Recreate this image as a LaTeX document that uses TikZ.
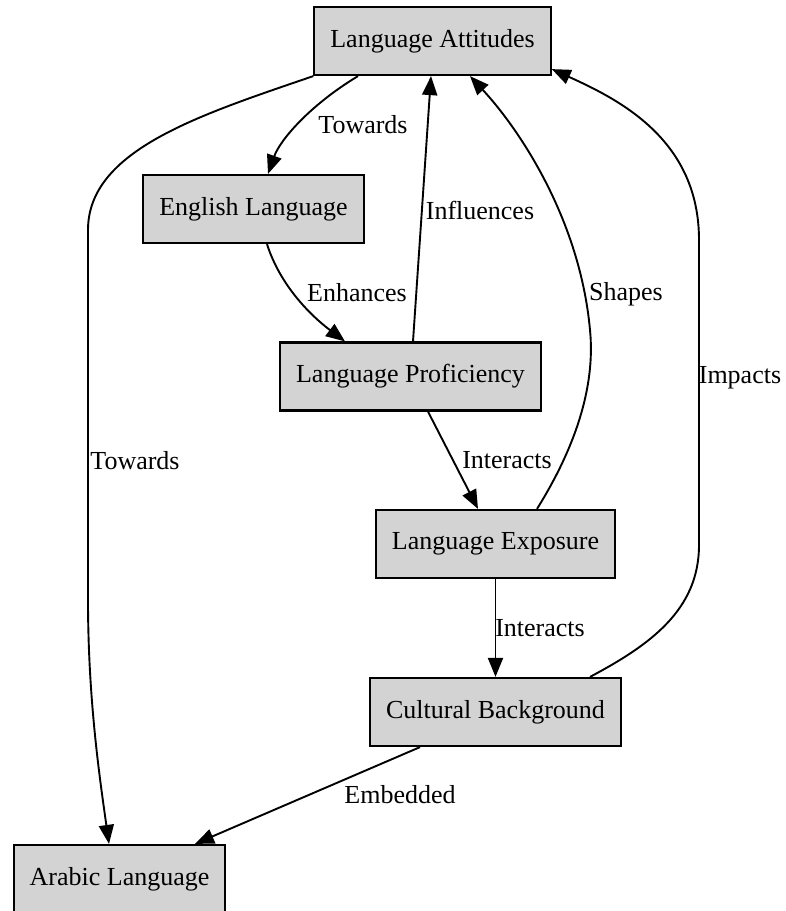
\documentclass[tikz,border=0pt]{standalone}
\usepackage{fontspec}
\setmainfont{Liberation Serif}
\usetikzlibrary{arrows.meta}
\definecolor{boxgray}{HTML}{D3D3D3}
\begin{document}
\begin{tikzpicture}[x=1pt, y=-1pt, font=\fontsize{26}{30}\selectfont,
      >={Triangle[length=19pt, width=15pt]},
      box/.style={draw, line width=2.2pt, fill=boxgray, inner xsep=16pt, minimum height=68pt},
      edge/.style={->, line width=1.9pt},
      lbl/.style={inner sep=1pt}]
    \useasboundingbox (0,0) rectangle (786,911);
    \node[box] (att) at (432.5,41) {Language Attitudes};
    \node[box] (eng) at (253.5,209) {English Language};
    \node[box] (pro) at (410.5,376.5) {Language Proficiency};
    \node[box] (exp) at (495.5,544) {Language Exposure};
    \node[box] (cul) at (495.5,712) {Cultural Background};
    \node[box] (ara) at (119.5,879) {Arabic Language};
    \draw[edge] ([xshift=-74.5pt]att.south) .. controls (310,105) and (280,140) .. ([xshift=14.5pt]eng.north);
    \draw[edge] (att.south west) .. controls (200,115) and (88,150) .. (88,230) -- (88,600)
      .. controls (88,700) and (100,780) .. ([xshift=-10.5pt]ara.north);
    \draw[edge] ([xshift=13.5pt]eng.south) .. controls (280,285) and (310,315) .. ([xshift=-65.5pt]pro.north);
    \draw[edge] ([xshift=2.5pt]pro.north) -- ([xshift=-1.5pt]att.south);
    \draw[edge] ([xshift=17.5pt]pro.south) -- ([xshift=-17.5pt]exp.north);
    \draw[edge] ([xshift=41.5pt]exp.north) .. controls (580,440) and (595,380) .. (590,330)
      .. controls (580,220) and (520,130) .. ([xshift=37.5pt]att.south);
    \draw[edge] (exp.south) -- (cul.north);
    \draw[edge] ([xshift=94.5pt]cul.north) .. controls (650,645) and (699,610) .. (699,545) -- (699,240)
      .. controls (699,140) and (620,100) .. ([yshift=7pt]att.south east);
    \draw[edge] ([xshift=-75.5pt]cul.south) -- ([xshift=75.5pt]ara.north);
    \node[lbl] (l-tow1) at (363,125) {Towards};
    \node[lbl] (l-tow2) at (135,461) {Towards};
    \node[lbl] (l-enh) at (357,293) {Enhances};
    \node[lbl] (l-inf) at (480,210) {Influences};
    \node[lbl] (l-int1) at (507,460) {Interacts};
    \node[lbl] (l-sha) at (626,294) {Shapes};
    \node[lbl] (l-int2) at (540,628) {Interacts};
    \node[lbl] (l-imp) at (740,378) {Impacts};
    \node[lbl] (l-emb) at (400,795) {Embedded};
  \end{tikzpicture}
\end{document}
